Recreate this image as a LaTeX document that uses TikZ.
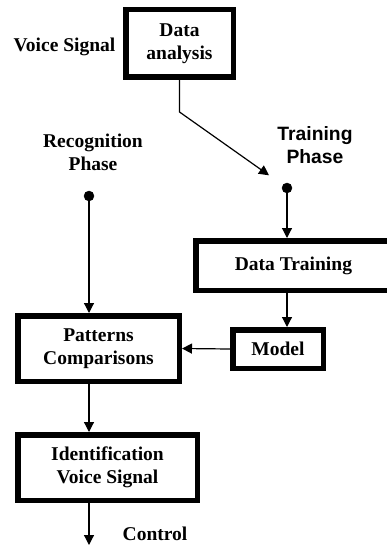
\documentclass[tikz,border=0pt]{standalone}
\usepackage{fontspec}
\setmainfont{Liberation Serif}
\newfontfamily\arialfont{Liberation Sans}
\usetikzlibrary{arrows.meta}

\tikzset{
  block/.style={draw, line width=5.5pt, inner sep=0pt, align=center,
    font=\bfseries\fontsize{19.5}{23}\selectfont},
  txt/.style={inner sep=0pt, align=center, font=\bfseries\fontsize{19.5}{23}\selectfont},
  flow/.style={-{Triangle[length=10pt,width=10pt]}, line width=1.2pt}
}

\begin{document}
\begin{tikzpicture}[x=1pt, y=-1pt]
		\useasboundingbox (0,0) rectangle (386,545);
		
		% Coordinates
		\coordinate (T_dot) at (287,188);
		\coordinate (R_dot) at (89,196);
		\coordinate (bend) at (179.5,112);
		\coordinate (ctrl_end) at (89,545);
		
		% Blocks
		\node[block, minimum width=107.5pt, minimum height=67.5pt] (DA) at (179.5,43.5) {Data\\analysis};
		\node[block, minimum width=209.25pt, minimum height=49.5pt] (DT) at (300.4,265.5) {Data Training\hspace*{14pt}};
		\node[block, minimum width=90.5pt, minimum height=38.5pt] (Mod) at (278,349) {Model};
		\node[block, minimum width=161.5pt, minimum height=65.5pt] (PC) at (98.5,348.5) {Patterns\\Comparisons};
		\node[block, minimum width=179.5pt, minimum height=65.5pt] (IVS) at (107.5,467.5) {Identification\\Voice Signal};
		
		% Labels
		\node[txt] (VS) at (64.5,47) {Voice Signal};
		\node[txt] (RP) at (93,152) {Recognition\\Phase};
		\node[txt, font=\arialfont\bfseries\fontsize{19.3}{23}\selectfont] (TP) at (315,145) {Training\\Phase};
		\node[txt] (Ctl) at (155,534) {Control};
		
		% Training phase
		\draw[flow, shorten >=22pt] (DA.south) -- (bend) -- (T_dot);
		\filldraw (T_dot) circle (5pt);
		\draw[flow] (T_dot) -- (T_dot |- DT.north);
		\draw[flow] (T_dot |- DT.south) -- (T_dot |- Mod.north);
		\draw[flow] (Mod.west) -- (PC.east);
		
		% Recognition phase
		\filldraw (R_dot) circle (5pt);
		\draw[flow] (R_dot) -- (R_dot |- PC.north);
		\draw[flow] (R_dot |- PC.south) -- (R_dot |- IVS.north);
		\draw[flow] (R_dot |- IVS.south) -- (ctrl_end);
	\end{tikzpicture}
\end{document}
